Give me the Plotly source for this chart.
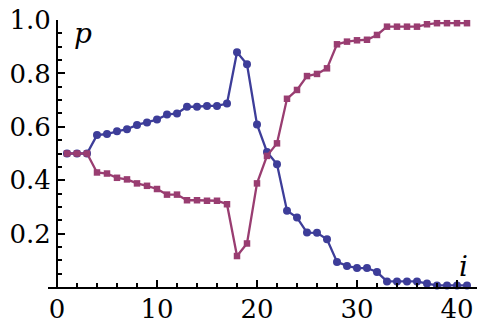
import plotly.graph_objects as go

idx = list(range(1, 42))
p_blue = [0.5, 0.5, 0.5, 0.569, 0.573, 0.583, 0.591, 0.607, 0.616, 0.627,
          0.646, 0.650, 0.675, 0.675, 0.678, 0.678, 0.687, 0.879, 0.834, 0.609,
          0.506, 0.460, 0.286, 0.260, 0.204, 0.203, 0.179, 0.094, 0.079, 0.071,
          0.071, 0.056, 0.021, 0.021, 0.021, 0.021, 0.013, 0.006, 0.006, 0.006, 0.006]
p_purple = [0.5, 0.5, 0.5, 0.429, 0.425, 0.409, 0.403, 0.388, 0.379, 0.367,
            0.346, 0.346, 0.325, 0.325, 0.323, 0.323, 0.310, 0.116, 0.163, 0.388,
            0.491, 0.538, 0.705, 0.738, 0.790, 0.798, 0.819, 0.909, 0.919, 0.924,
            0.926, 0.944, 0.975, 0.975, 0.975, 0.975, 0.984, 0.988, 0.988, 0.988, 0.988]

x_ticks = [0, 10, 20, 30, 40]
y_ticks = [0.2, 0.4, 0.6, 0.8, 1.0]
y_ticklabels = ["0.2", "0.4", "0.6", "0.8", "1.0"]

BLUE = "#3d3d99"
PURPLE = "#993d71"
FONT = "DejaVu Serif"

fig = go.Figure()
fig.add_trace(go.Scatter(x=idx, y=p_blue, mode="lines+markers",
                         line=dict(color=BLUE, width=2.3),
                         marker=dict(symbol="circle", size=8, color=BLUE),
                         cliponaxis=False, showlegend=False))
fig.add_trace(go.Scatter(x=idx, y=p_purple, mode="lines+markers",
                         line=dict(color=PURPLE, width=2.3),
                         marker=dict(symbol="square", size=6.5, color=PURPLE),
                         cliponaxis=False, showlegend=False))

L, R, T, B = 48, 4, 20, 39
W, H = 481, 326
xr = [-0.9, 42.0]
ypos = (0 - xr[0]) / (xr[1] - xr[0])

fig.update_layout(
    width=W, height=H,
    margin=dict(l=L, r=R, t=T, b=B, pad=0, autoexpand=False),
    paper_bgcolor="white", plot_bgcolor="white",
    font=dict(family=FONT, size=26, color="black"),
    xaxis=dict(range=xr, domain=[0, 1], showgrid=False, zeroline=False,
               automargin=False,
               showline=True, linecolor="black", linewidth=2,
               ticks="inside", ticklen=7, tickwidth=1.5, tickcolor="black",
               tickvals=x_ticks, ticktext=[str(v) for v in x_ticks],
               minor=dict(ticks="inside", ticklen=4, tickwidth=1.5, tickcolor="black",
                          dtick=2, tick0=0, showgrid=False),
               tickfont=dict(family=FONT, size=26), ticklabelstandoff=-2),
    yaxis=dict(range=[0, 1.0], anchor="free", position=ypos,
               showgrid=False, zeroline=False, automargin=False,
               showline=True, linecolor="black", linewidth=2,
               ticks="inside", ticklen=7, tickwidth=1.5, tickcolor="black",
               tickvals=y_ticks, ticktext=y_ticklabels,
               minor=dict(ticks="inside", ticklen=4, tickwidth=1.5, tickcolor="black",
                          dtick=0.05, tick0=0, showgrid=False),
               tickfont=dict(family=FONT, size=26), ticklabelstandoff=0),
    annotations=[
        dict(text="<i>p</i>", x=2.6, y=0.95, xref="x", yref="y", showarrow=False,
             font=dict(family=FONT, size=28), xanchor="center", yanchor="middle"),
        dict(text="<i>i</i>", x=40.6, y=0.075, xref="x", yref="y", showarrow=False,
             font=dict(family=FONT, size=28), xanchor="center", yanchor="middle"),
    ],
)

fig.write_html("out.html")
